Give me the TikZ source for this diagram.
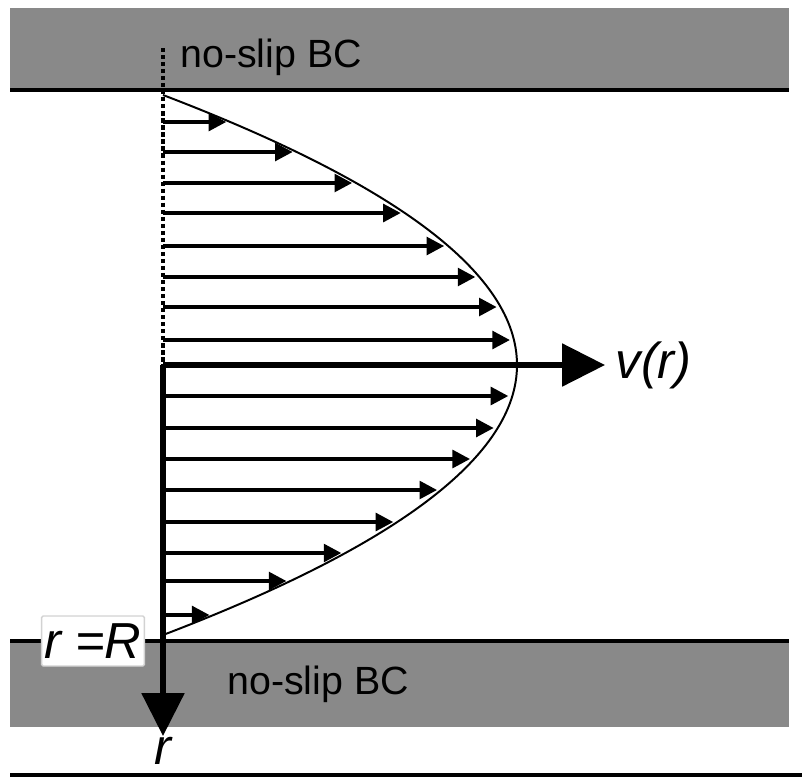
\documentclass[tikz,border=0pt]{standalone}
\usepackage{fontspec}
\setsansfont{Liberation Sans}
\usetikzlibrary{arrows.meta}
\definecolor{wallgray}{RGB}{137,137,137}

\begin{document}
\begin{tikzpicture}[
  x=0.025cm, y=-0.025cm,
  wall/.style={fill=wallgray},
  vel/.style={-{Triangle[length=4.4mm, width=4.4mm]}, line width=2.7pt},
  axis/.style={-{Triangle[length=10.7mm, width=10.5mm]}, line width=3.6pt},
  lbl/.style={font=\sffamily\fontsize{28}{30}\selectfont, inner sep=0pt},
  sym/.style={font=\sffamily\itshape\fontsize{36}{40}\selectfont, inner sep=0pt}
]
\useasboundingbox (0,0) rectangle (802,778);
\fill[wall] (10,8) rectangle (789,90);
\fill[wall] (10,641) rectangle (789,727);
\draw[line width=3pt] (10,90) -- (789,90);
\draw[line width=3pt] (10,641) -- (789,641);
\draw[line width=3.5pt] (10,775) -- (802,775);

\node[lbl, anchor=west] (topbc) at (180,57) {no-slip BC};
\node[lbl, anchor=west] (botbc) at (227,684) {no-slip BC};
\coordinate (o) at (163,365);
\coordinate (dtop) at (163,48);
\coordinate (top) at (163,95);
\coordinate (bot) at (163,635);
\node[sym, anchor=west, inner xsep=2.6mm] (v) at (605,365) {v(r)};
\node[sym, anchor=north, text height=20pt, text depth=0pt] (r) at (163,736) {r};
\node[sym, draw=gray!35, fill=white, line width=1pt, inner xsep=2pt,
  minimum height=12.5mm, rounded corners=1pt] (rR) at (93,641) {r =R};

\draw[line width=2.2pt, dash pattern=on 3pt off 2pt] (dtop) -- (o);
\draw[line width=1.4pt] (top) .. controls (635,275) and (635,455) .. (bot);
\foreach \y [count=\i] in {122,152,183,213,246,277,307,340,396,428,459,490,522,553,581,615} {
  \pgfmathsetmacro{\tip}{163+354*(1-((\y-365)/270)^2)-4}
  \coordinate (s\i) at (163,\y);
  \coordinate (e\i) at (\tip,\y);
  \draw[vel] (s\i) -- (e\i);
}
\draw[axis] (o) -- (v);
\draw[axis] (o) -- (r);
\end{tikzpicture}
\end{document}
